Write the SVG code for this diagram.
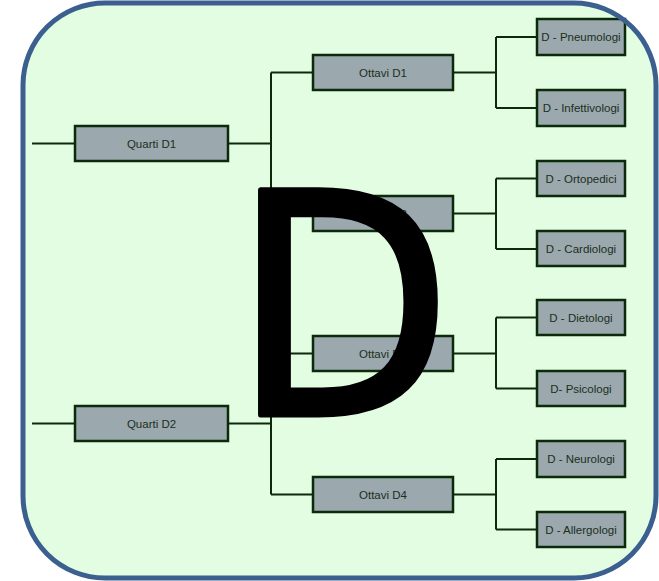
<svg xmlns="http://www.w3.org/2000/svg" width="659" height="581" viewBox="0 0 659 581">
<style>
.bg{fill:#e3fde3;stroke:none}
.border{fill:none;stroke:#3b5f8e;stroke-width:5}
.box{fill:#9ba8ae;stroke:#0a2a0a;stroke-width:2.5}
.lbl{font-family:"Liberation Sans",Arial,sans-serif;font-size:11.5px;fill:#1c2e1c;text-anchor:middle}
.con{fill:none;stroke:#0a2a0a;stroke-width:2}
.big{font-family:"DejaVu Sans",sans-serif;font-size:309px;fill:#000;stroke:#000;stroke-width:5;stroke-linejoin:round}
</style>
<rect width="659" height="581" fill="#ffffff"/>
<rect class="bg" x="23" y="3" width="633" height="575" rx="82" ry="82"/>
<g id="connectors">
<path class="con" d="M32,143.5 H75 M228,143.5 H271 M271,72.5 V213.5 M271,72.5 H313 M271,213.5 H313"/>
<path class="con" d="M32,423.5 H75 M228,423.5 H271 M271,353.5 V494.5 M271,353.5 H313 M271,494.5 H313"/>
<path class="con" d="M453,72.5 H496 M496,37 V108 M496,37 H537 M496,108 H537"/>
<path class="con" d="M453,213.5 H496 M496,178.5 V249 M496,178.5 H537 M496,249 H537"/>
<path class="con" d="M453,353.5 H496 M496,317.5 V388.5 M496,317.5 H537 M496,388.5 H537"/>
<path class="con" d="M453,494.5 H496 M496,459 V529.5 M496,459 H537 M496,529.5 H537"/>
</g>
<g id="quarti-d1"><rect class="box" x="75" y="126" width="153" height="35"/><text class="lbl" x="151.5" y="147.8">Quarti D1</text></g>
<g id="quarti-d2"><rect class="box" x="75" y="406" width="153" height="35"/><text class="lbl" x="151.5" y="427.8">Quarti D2</text></g>
<g id="ottavi-d1"><rect class="box" x="313" y="55" width="140" height="35"/><text class="lbl" x="383" y="76.8">Ottavi D1</text></g>
<g id="ottavi-d2"><rect class="box" x="313" y="196" width="140" height="35"/><text class="lbl" x="383" y="217.8">Ottavi D2</text></g>
<g id="ottavi-d3"><rect class="box" x="313" y="336" width="140" height="35"/><text class="lbl" x="383" y="357.8">Ottavi D3</text></g>
<g id="ottavi-d4"><rect class="box" x="313" y="477" width="140" height="35"/><text class="lbl" x="383" y="498.8">Ottavi D4</text></g>
<g id="pneumologi"><rect class="box" x="537" y="19" width="88" height="36"/><text class="lbl" x="581" y="41.3">D - Pneumologi</text></g>
<g id="infettivologi"><rect class="box" x="537" y="90" width="88" height="36"/><text class="lbl" x="581" y="112.3">D - Infettivologi</text></g>
<g id="ortopedici"><rect class="box" x="537" y="161" width="88" height="35"/><text class="lbl" x="581" y="182.8">D - Ortopedici</text></g>
<g id="cardiologi"><rect class="box" x="537" y="231" width="88" height="35"/><text class="lbl" x="581" y="252.8">D - Cardiologi</text></g>
<g id="dietologi"><rect class="box" x="537" y="300" width="88" height="35"/><text class="lbl" x="581" y="321.8">D - Dietologi</text></g>
<g id="psicologi"><rect class="box" x="537" y="371" width="88" height="35"/><text class="lbl" x="581" y="392.8">D- Psicologi</text></g>
<g id="neurologi"><rect class="box" x="537" y="441" width="88" height="36"/><text class="lbl" x="581" y="463.3">D - Neurologi</text></g>
<g id="allergologi"><rect class="box" x="537" y="512" width="88" height="35"/><text class="lbl" x="581" y="533.8">D - Allergologi</text></g>
<text class="big" transform="translate(232.3,415) scale(0.925,1)" x="0" y="0">D</text>
<rect class="border" x="23" y="3" width="633" height="575" rx="82" ry="82"/>
</svg>
